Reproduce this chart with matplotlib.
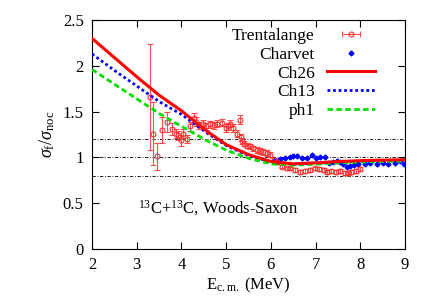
import matplotlib
matplotlib.use('Agg')
import matplotlib.pyplot as plt
import numpy as np

plt.rcParams['font.family'] = ['Liberation Serif', 'DejaVu Serif']
plt.rcParams['mathtext.fontset'] = 'custom'
plt.rcParams['mathtext.rm'] = 'Liberation Serif'
plt.rcParams['mathtext.it'] = 'Liberation Serif:italic'

# model curves
e_model = [2.0, 2.5, 3.0, 3.5, 4.0, 4.5, 5.0, 5.5, 6.0, 6.5, 7.0, 7.5, 8.0, 8.5, 9.0]
ch26 = [2.30, 2.09, 1.88, 1.68, 1.51, 1.31, 1.14, 1.03, 0.955, 0.93, 0.94, 0.955, 0.965, 0.97, 0.975]
ch13 = [2.13, 1.95, 1.78, 1.61, 1.47, 1.29, 1.13, 1.02, 0.95, 0.925, 0.935, 0.95, 0.96, 0.965, 0.97]
ph1 = [1.96, 1.80, 1.64, 1.48, 1.34, 1.20, 1.08, 0.99, 0.93, 0.915, 0.925, 0.94, 0.95, 0.955, 0.96]

# Trentalange data
e_tr = [3.30, 3.37, 3.46, 3.56, 3.67, 3.78, 3.88, 3.93, 3.98, 4.04, 4.13, 4.20,
        4.27, 4.33, 4.40, 4.48, 4.56, 4.63, 4.72, 4.80, 4.90, 4.99, 5.04, 5.09,
        5.16, 5.24, 5.31, 5.33, 5.36, 5.41, 5.46, 5.53, 5.61, 5.68, 5.76, 5.83,
        5.91, 5.98, 6.06, 6.13, 6.24, 6.35, 6.43, 6.54, 6.65, 6.76, 6.88, 6.98,
        7.08, 7.18, 7.25, 7.35, 7.45, 7.55, 7.65, 7.72, 7.80, 7.90, 8.00]
v_tr = [1.66, 1.26, 1.01, 1.30, 1.39, 1.31, 1.26, 1.24, 1.19, 1.26, 1.20, 1.34,
        1.43, 1.39, 1.35, 1.37, 1.34, 1.36, 1.35, 1.37, 1.38, 1.32, 1.34, 1.37,
        1.32, 1.26, 1.41, 1.22, 1.18, 1.15, 1.13, 1.12, 1.10, 1.08, 1.07, 1.06,
        1.05, 1.03, 0.97, 0.95, 0.90, 0.88, 0.88, 0.86, 0.84, 0.85, 0.86, 0.88,
        0.87, 0.86, 0.84, 0.85, 0.84, 0.85, 0.83, 0.83, 0.84, 0.85, 0.87]
err_tr = [0.58, 0.34, 0.15, 0.14, 0.11, 0.07, 0.05, 0.05, 0.06, 0.05, 0.04, 0.05,
          0.05, 0.05, 0.04, 0.04, 0.04, 0.04, 0.04, 0.04, 0.04, 0.04, 0.04, 0.04,
          0.04, 0.04, 0.05, 0.04, 0.03, 0.03, 0.03, 0.03, 0.03, 0.03, 0.03, 0.03,
          0.03, 0.03, 0.02, 0.02, 0.02, 0.02, 0.02, 0.02, 0.02, 0.02, 0.02, 0.02,
          0.02, 0.02, 0.02, 0.02, 0.02, 0.02, 0.02, 0.02, 0.02, 0.02, 0.02]

# Charvet data
e_ch = [6.10, 6.20, 6.32, 6.42, 6.50, 6.58, 6.69, 6.80, 6.91, 7.02, 7.10, 7.21,
        7.30, 7.39, 7.48, 7.55, 7.62, 7.70, 7.78, 7.85, 7.95, 8.11, 8.22, 8.37,
        8.50, 8.63, 8.78, 8.88, 8.97]
v_ch = [0.97, 0.98, 0.99, 1.00, 1.01, 1.02, 0.99, 0.99, 1.03, 0.99, 1.00, 1.00,
        0.94, 0.95, 0.96, 0.95, 0.93, 0.90, 0.91, 0.92, 0.93, 0.93, 0.94, 0.93,
        0.94, 0.93, 0.94, 0.96, 0.93]

ref_lines = [0.8, 1.0, 1.2]

fig = plt.figure(figsize=(4.36, 3.04), dpi=100)
ax = fig.add_axes([0.211, 0.181, 0.718, 0.753])

for yv in ref_lines:
    ax.axhline(yv, color='black', lw=0.6, ls=(0, (4, 2, 1, 2)), zorder=1)

err_style = dict(fmt='o', ms=3.5, mfc='none', mec='#ff3030', mew=0.8,
                 ecolor='#ff5050', elinewidth=0.8, capsize=2.5, capthick=0.8)
ax.errorbar(e_tr, v_tr, yerr=err_tr, zorder=3, **err_style)
# legend proxy: horizontal error bar like the original key
h_tr = ax.errorbar([np.nan], [np.nan], xerr=[0.1], **err_style)
h_ch, = ax.plot(e_ch, v_ch, 'D', ms=2.5, color='#0000ff', ls='none', zorder=3)

e_fine = np.linspace(2, 9, 200)
h26, = ax.plot(e_fine, np.interp(e_fine, e_model, ch26), color='#ff0000', lw=2.2, zorder=5)
h13, = ax.plot(e_fine, np.interp(e_fine, e_model, ch13), color='#0000ff', lw=2.0, ls=(0, (1, 1)), zorder=4)
hph, = ax.plot(e_fine, np.interp(e_fine, e_model, ph1), color='#00dd00', lw=2.0, ls=(0, (2, 1.2)), zorder=4)

ax.text(3.03, 0.45, r'$^{13}$C+$^{13}$C, Woods-Saxon', fontsize=12, va='center', ha='left')

ax.set_xlim(2, 9)
ax.set_ylim(0, 2.5)
ax.set_xticks(range(2, 10))
ax.set_yticks([0, 0.5, 1, 1.5, 2, 2.5])
ax.set_yticklabels(['0', '0.5', '1', '1.5', '2', '2.5'])
ax.tick_params(direction='in', top=True, right=True, labelsize=12, length=5, pad=6)
ax.set_xlabel(r'E$_{\rm c.m.}$ (MeV)', fontsize=12, labelpad=2)
ax.set_ylabel(r'$\sigma_{\rm f}/\sigma_{\rm noc}$', fontsize=13, labelpad=4)

ax.legend([h_tr, h_ch, h26, h13, hph], ['Trentalange', 'Charvet', 'Ch26', 'Ch13', 'ph1'],
          loc='upper right', frameon=False, markerfirst=False, fontsize=12.5,
          handlelength=2.8, labelspacing=0.15, borderaxespad=0.2, borderpad=0.25,
          handletextpad=0.7, bbox_to_anchor=(0.93, 1.0))

fig.savefig('out.png', dpi=100)
